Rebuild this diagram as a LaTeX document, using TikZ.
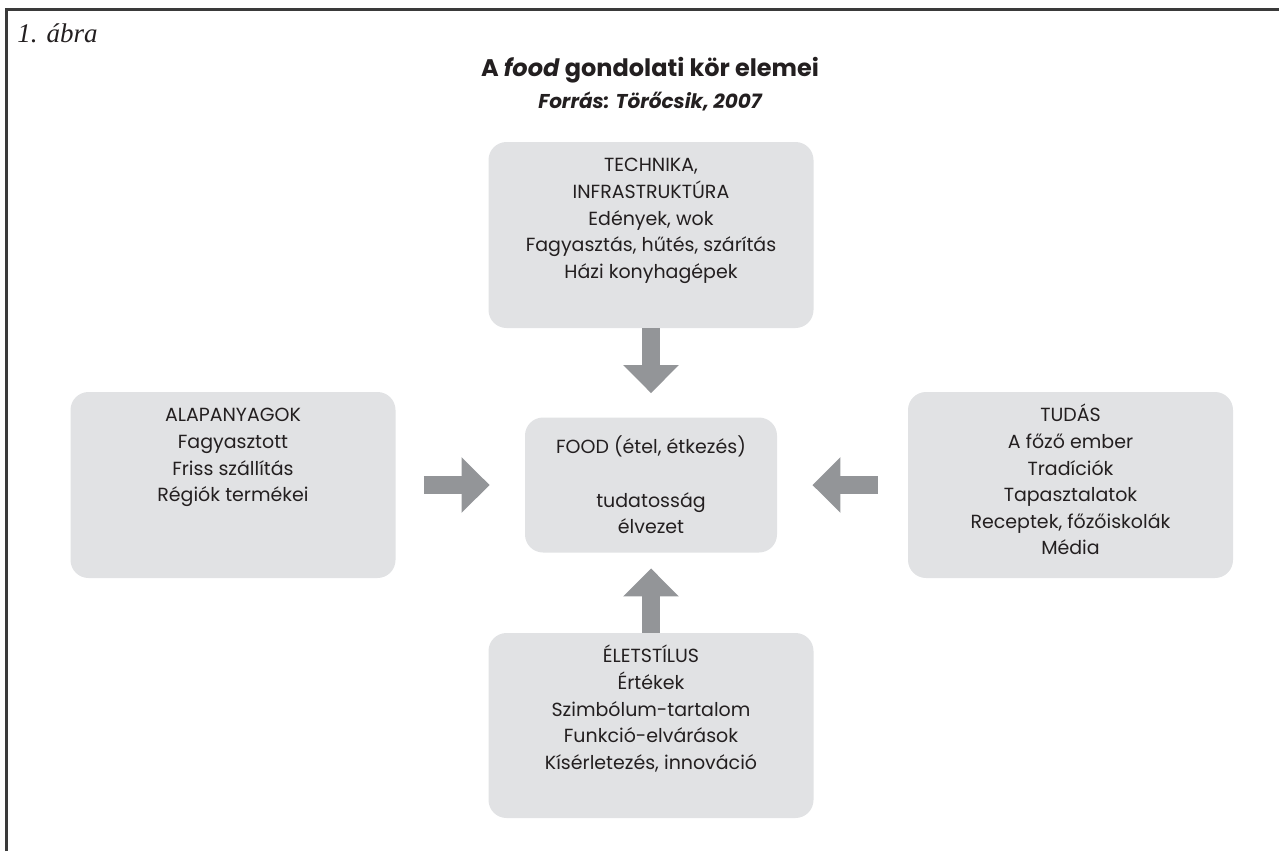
\documentclass[tikz,border=0pt]{standalone}
\usepackage{fontspec}
\usepackage{tikz}
\usetikzlibrary{arrows.meta,positioning}
\setmainfont{Liberation Serif}
\newfontfamily\boxfont{Poppins}
\definecolor{BoxGray}{HTML}{E1E2E4}
\definecolor{ArrowGray}{HTML}{939598}
\definecolor{Ink}{HTML}{231F20}
\definecolor{FrameGray}{HTML}{3A3A3A}

\begin{document}
\begin{tikzpicture}[x=0.5pt,y=-0.5pt]
	\tikzstyle{Box}		= [rectangle, rounded corners=9pt, fill=BoxGray, inner sep=0pt, minimum width=162.5pt, minimum height=93pt]
	\tikzstyle{Body}	= [align=center, inner sep=0pt, text=Ink, font=\boxfont\fontsize{9.5}{13.3}\selectfont]
	\tikzstyle{Feed}	= [ArrowGray, line width=9pt, -{Triangle[width=27pt,length=14pt]}]
	\tikzstyle{Frame}	= [FrameGray, line width=1.5pt]
	\tikzstyle{Head}	= [anchor=base, inner sep=0pt, text=Ink]

	\useasboundingbox (0,0) rectangle (1279,851);
	\draw [Frame] (6,851) -- (6,9) -- (1279,9);

	\node (fig) at (17,42) [Head, anchor=base west, font=\fontsize{13.5}{16}\selectfont\itshape] {1. ábra};
	\node (title) at (650,76) [Head, font=\boxfont\bfseries\fontsize{12}{14}\selectfont] {A \textit{food} gondolati kör elemei};
	\node (source) at (650,108) [Head, font=\boxfont\bfseries\itshape\fontsize{10}{12}\selectfont] {Forrás: Törőcsik, 2007};

	\node (tech) at (651,235) [Box] {};
	\node (alap) at (233,485) [Box] {};
	\node (tudas) at (1070.5,485) [Box] {};
	\node (life) at (651,725.5) [Box, minimum height=92.5pt] {};
	\node (food) at (651,485) [Box, Body, minimum width=126pt, minimum height=67.5pt] {FOOD (étel, étkezés)\\[13.3pt]tudatosság\\élvezet};

	\node (techtext) [Body, below=5.6pt of tech.north] {\strut TECHNIKA,\\INFRASTRUKTÚRA\\Edények, wok\\Fagyasztás, hűtés, szárítás\\Házi konyhagépek};
	\node (alaptext) [Body, below=5.6pt of alap.north] {\strut ALAPANYAGOK\\Fagyasztott\\Friss szállítás\\Régiók termékei};
	\node (tudastext) [Body, below=5.6pt of tudas.north] {\strut TUDÁS\\A főző ember\\Tradíciók\\Tapasztalatok\\Receptek, főzőiskolák\\Média};
	\node (lifetext) [Body, below=5.6pt of life.north] {\strut ÉLETSTÍLUS\\Értékek\\Szimbólum-tartalom\\Funkció-elvárások\\Kísérletezés, innováció};

	\draw [Feed, shorten >=12pt] (tech) to (food);
	\draw [Feed, shorten <=14pt, shorten >=17.5pt] (alap) to (food);
	\draw [Feed, shorten <=15pt, shorten >=17.5pt] (tudas) to (food);
	\draw [Feed, shorten >=7.75pt] (life) to (food);
\end{tikzpicture}
\end{document}
